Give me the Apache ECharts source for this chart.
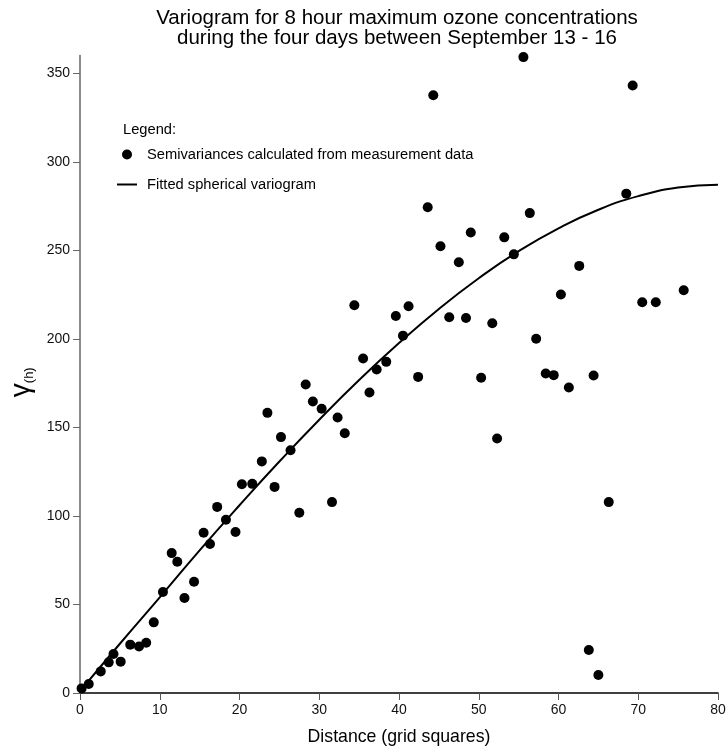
<!DOCTYPE html>
<html>
<head>
<meta charset="utf-8">
<script src="https://cdn.jsdelivr.net/npm/echarts@6/dist/echarts.min.js"></script>
<style>
html,body{margin:0;padding:0;background:#fff;}
#chart{width:727px;height:748px;}
</style>
</head>
<body>
<div id="chart"></div>
<script>
// Semivariances
var distance = [0.2, 1.1, 2.6, 3.6, 4.2, 5.1, 6.3, 7.4, 8.3, 9.25,
  10.4, 11.5, 12.2, 13.1, 14.3, 15.5, 16.3, 17.2, 18.3, 19.5,
  20.3, 21.6, 22.8, 23.5, 24.4, 25.2, 26.4, 27.5, 28.3, 29.2,
  30.3, 31.6, 32.3, 33.2, 34.4, 35.5, 36.3, 37.2, 38.4, 39.6,
  40.5, 41.2, 42.4, 43.6, 44.3, 45.2, 46.3, 47.5, 48.4, 49.0,
  50.3, 51.7, 52.3, 53.2, 54.4, 55.6, 56.4, 57.2, 58.4, 59.4,
  60.3, 61.3, 62.6, 63.8, 64.4, 65.0, 66.3, 68.5, 69.3, 70.5,
  72.2, 75.7];
var semivariance = [2.6, 5.1, 12.2, 17.3, 22.0, 17.7, 27.3, 26.3, 28.4, 39.9,
  57.0, 79.0, 74.1, 53.6, 62.8, 90.5, 84.1, 105.1, 97.8, 90.9,
  117.9, 118.1, 130.8, 158.2, 116.4, 144.5, 137.1, 101.8, 174.2, 164.6,
  160.5, 107.8, 155.6, 146.7, 219.0, 188.9, 169.7, 182.7, 187.0, 212.9,
  201.8, 218.4, 178.5, 274.3, 337.6, 252.3, 212.2, 243.2, 211.8, 260.0,
  178.0, 208.8, 143.7, 257.3, 247.7, 359.1, 271.0, 200.0, 180.4, 179.5,
  225.0, 172.5, 241.2, 24.3, 179.3, 10.2, 107.8, 282.0, 343.1, 220.7,
  220.7, 227.4];

// Fitted spherical variogram
var curveDistance = [0, 5, 10, 15, 20, 25, 30, 35, 40, 45, 50, 55, 60, 65, 70, 75, 80];
var curveValue = [1, 27.8, 54, 80.5, 106, 130.7, 154.3, 176.7, 197.6, 216.9, 234.2, 249.5, 262.4, 272.9, 280.6, 285.4, 287];

var yTicks = [0, 50, 100, 150, 200, 250, 300, 350];
var xTicks = [0, 10, 20, 30, 40, 50, 60, 70, 80];

var titleText = 'Variogram for 8 hour maximum ozone concentrations\nduring the four days between September 13 - 16';
var seriesNames = ['Semivariances calculated from measurement data', 'Fitted spherical variogram'];

var FONT = '"Liberation Sans", Arial, Helvetica, sans-serif';

var scatterData = distance.map(function (d, i) { return [d, semivariance[i]]; });
var curveData = curveDistance.map(function (d, i) { return [d, curveValue[i]]; });

var chart = echarts.init(document.getElementById('chart'), null, {renderer: 'canvas'});
chart.setOption({
  backgroundColor: '#ffffff',
  animation: false,
  textStyle: {fontFamily: FONT},
  title: {
    text: titleText,
    left: 392,
    top: 3,
    textAlign: 'center',
    padding: [5, 5, 5, 5],
    textStyle: {fontFamily: FONT, fontSize: 20.5, fontWeight: 'normal', color: '#000', lineHeight: 20}
  },
  grid: {left: 80, right: 9, top: 55.5, bottom: 55, containLabel: false, outerBoundsMode: 'none'},
  legend: {
    orient: 'vertical',
    left: 111,
    top: 142,
    itemWidth: 20,
    itemHeight: 10,
    itemGap: 15,
    textStyle: {fontFamily: FONT, fontSize: 14.7, color: '#000', padding: [0, 0, 0, 5]},
    data: [
      {name: seriesNames[0], icon: 'circle', itemStyle: {color: '#000', opacity: 1}},
      {name: seriesNames[1], itemStyle: {opacity: 0}, lineStyle: {color: '#000', width: 2}}
    ]
  },
  graphic: [{
    type: 'text', left: 123, top: 122,
    style: {text: 'Legend:', font: '14.7px ' + FONT, fill: '#000'}
  }],
  xAxis: {
    type: 'value', min: 0, max: 80, interval: 10,
    name: 'Distance (grid squares)', nameLocation: 'middle', nameGap: 35,
    nameTextStyle: {fontFamily: FONT, fontSize: 17.7, color: '#000'},
    axisLine: {show: true, onZero: false, lineStyle: {color: '#000', width: 1.5}},
    axisTick: {show: true, length: 7, lineStyle: {color: '#555', width: 1}, customValues: xTicks},
    axisLabel: {fontFamily: FONT, fontSize: 14, color: '#111', margin: 10, customValues: xTicks},
    splitLine: {show: false}
  },
  yAxis: {
    type: 'value', min: 0, max: 360, interval: 50,
    name: '{g|γ}{s|(h)}', nameLocation: 'middle', nameGap: 44, nameRotate: 90,
    nameTextStyle: {
      padding: [0, 16, 0, 0],
      rich: {
        g: {fontFamily: FONT, fontSize: 28, color: '#000'},
        s: {fontFamily: FONT, fontSize: 13, color: '#000', verticalAlign: 'bottom', padding: [11, 0, 0, 0]}
      }
    },
    axisLine: {show: true, onZero: false, lineStyle: {color: '#666', width: 1.5}},
    axisTick: {show: true, length: 7, lineStyle: {color: '#666', width: 1}, customValues: yTicks},
    axisLabel: {fontFamily: FONT, fontSize: 14, color: '#111', margin: 10, customValues: yTicks},
    splitLine: {show: false}
  },
  series: [{
    name: seriesNames[0],
    type: 'scatter',
    data: scatterData,
    symbol: 'circle',
    symbolSize: 10,
    clip: false,
    itemStyle: {color: '#000', opacity: 1},
    z: 3
  }, {
    name: seriesNames[1],
    type: 'line',
    data: curveData,
    symbol: 'none',
    showSymbol: false,
    smooth: true,
    lineStyle: {color: '#000', width: 2},
    itemStyle: {color: '#000'},
    z: 2
  }]
});
</script>
</body>
</html>
